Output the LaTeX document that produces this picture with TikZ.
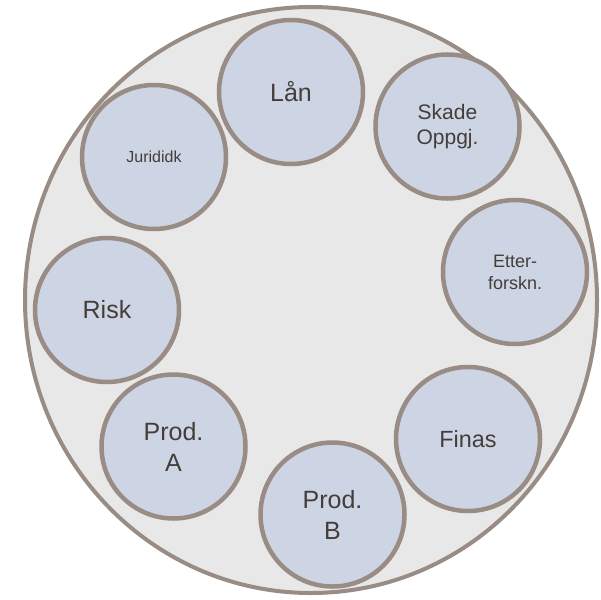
\documentclass[tikz,border=0pt]{standalone}
\usepackage{fontspec}
\setmainfont{Liberation Sans}
\definecolor{ringline}{RGB}{152,140,132}
\definecolor{bigfill}{RGB}{232,232,232}
\definecolor{smallfill}{RGB}{205,212,227}
\definecolor{txt}{RGB}{68,62,58}
\tikzset{
  bigring/.style={draw=ringline, fill=bigfill, line width=4pt},
  unit/.style={circle, draw=ringline, fill=smallfill, line width=4.5pt,
    minimum size=144pt, inner sep=0pt, align=center, text=txt},
  fsA/.style={font=\fontsize{25}{31}\selectfont},
  fsB/.style={font=\fontsize{23.4}{29}\selectfont},
  fsC/.style={font=\fontsize{21}{25}\selectfont},
  fsD/.style={font=\fontsize{18}{22}\selectfont},
  fsE/.style={font=\fontsize{16}{19}\selectfont},
}
\begin{document}
\begin{tikzpicture}[x=1pt,y=-1pt]
\useasboundingbox (0,0) rectangle (601,599);
\path[bigring] (311,300) ellipse [x radius=286, y radius=293];
\node[unit, fsA] (laan) at (291,92) {Lån};
\node[unit, fsC] (skade) at (447.5,126.5) {Skade\\Oppgj.};
\node[unit, fsE] (jur) at (154,157) {Jurididk};
\node[unit, fsD] (etter) at (515,272) {Etter-\\forskn.};
\node[unit, fsA] (risk) at (107,310) {Risk};
\node[unit, fsA] (proda) at (173.5,446.5) {Prod.\\A};
\node[unit, fsA] (prodb) at (332.5,514.5) {Prod.\\B};
\node[unit, fsB] (finas) at (468,439) {Finas};
\end{tikzpicture}
\end{document}
